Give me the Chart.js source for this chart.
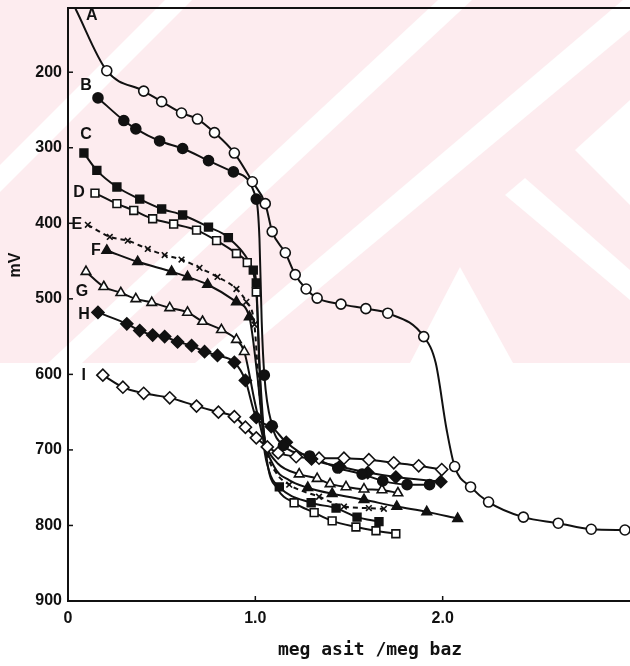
<!DOCTYPE html>
<html>
<head>
<meta charset="utf-8">
<script src="https://cdn.jsdelivr.net/npm/chart.js@4.4.0/dist/chart.umd.min.js"></script>
<style>
  html, body { margin: 0; padding: 0; background: #fff; }
  #wrap { width: 630px; height: 666px; }
</style>
</head>
<body>
<div id="wrap"><canvas id="titration" width="630" height="666"></canvas></div>
<script>
// Titration curves, [meq asit / meq baz, mV]
const ptsA = [[0.207,198],[0.404,225],[0.50,239],[0.606,254],[0.691,262],[0.782,280],[0.888,307],[0.984,345],
  [1.053,374],[1.09,411],[1.16,439],[1.213,468],[1.271,487],[1.33,499],[1.457,507],[1.59,513],[1.707,519],
  [1.899,550],[2.064,722],[2.149,749],[2.245,769],[2.431,789],[2.617,797],[2.793,805],[2.973,806]];
const ptsB = [[0.16,234],[0.298,264],[0.362,275],[0.489,291],[0.612,301],[0.75,317],[0.883,332],[1.005,368],
  [1.048,601],[1.09,668],[1.15,694],[1.29,708],[1.44,724],[1.57,732],[1.68,741],[1.81,746],[1.93,746]];
const ptsC = [[0.085,307],[0.154,330],[0.261,352],[0.383,368],[0.50,381],[0.612,389],[0.75,405],[0.856,419],
  [0.989,462],[1.005,479],[1.128,749],[1.298,770],[1.431,777],[1.543,789],[1.66,795]];
const ptsD = [[0.144,360],[0.261,374],[0.351,383],[0.452,394],[0.564,401],[0.686,409],[0.793,423],[0.899,440],
  [0.957,452],[1.005,491],[1.207,770],[1.314,783],[1.41,794],[1.537,802],[1.644,807],[1.75,811]];
const ptsE = [[0.106,402],[0.223,418],[0.319,423],[0.426,434],[0.516,442],[0.606,448],[0.702,459],[0.798,471],
  [0.899,487],[0.952,504],[0.995,534],[1.181,746],[1.34,762],[1.473,775],[1.606,777],[1.686,778]];
const ptsF = [[0.207,436],[0.372,451],[0.553,464],[0.638,471],[0.745,481],[0.899,504],[0.968,524],
  [1.28,750],[1.41,758],[1.58,766],[1.755,775],[1.915,782],[2.08,791]];
const ptsG = [[0.096,464],[0.191,484],[0.282,492],[0.362,500],[0.447,505],[0.543,512],[0.638,518],[0.718,530],
  [0.819,541],[0.899,554],[0.941,570],[1.234,732],[1.33,738],[1.399,745],[1.484,749],[1.58,752],[1.676,753],[1.761,757]];
const ptsH = [[0.16,518],[0.314,533],[0.383,542],[0.452,548],[0.516,550],[0.585,557],[0.66,562],[0.729,570],
  [0.798,575],[0.888,584],[0.947,608],[1.005,657],[1.085,669],[1.165,690],[1.30,712],[1.45,722],[1.60,730],[1.75,736],[1.99,742]];
const ptsI = [[0.186,601],[0.293,617],[0.404,625],[0.543,631],[0.686,642],[0.803,650],[0.888,656],[0.947,670],
  [1.005,684],[1.064,696],[1.122,704],[1.218,709],[1.34,711],[1.473,711],[1.606,713],[1.739,717],[1.872,721],[1.995,726]];

// extra points the drawn curves pass through (no marker there)
const bendA = [[0.04,116],[1.963,585],[2.021,673]];
const bendB = [[1.022,420],[1.034,530]];
const bendC = [[1.02,580],[1.04,680],[1.07,725]];
const bendD = [[1.025,600],[1.06,710],[1.12,752]];
const bendE = [[1.02,620],[1.06,700],[1.11,730]];
const bendF = [[1.01,600],[1.045,680],[1.10,722],[1.18,740]];
const bendG = [[1.0,640],[1.05,690],[1.12,718]];

const xTicks = [0, 1.0, 2.0];
const yTicks = [200, 300, 400, 500, 600, 700, 800, 900];

const series = [
  { name: 'A', pts: ptsA, bend: bendA, shape: 'circle',   filled: false, r: 5,   lab: [-15, -55] },
  { name: 'B', pts: ptsB, bend: bendB, shape: 'circle',   filled: true,  r: 5,   lab: [-12, -12] },
  { name: 'C', pts: ptsC, bend: bendC, shape: 'rect',     filled: true,  r: 5.5, lab: [2, -18] },
  { name: 'D', pts: ptsD, bend: bendD, shape: 'rect',     filled: false, r: 5.5, lab: [-16, 0] },
  { name: 'E', pts: ptsE, bend: bendE, shape: 'crossRot', filled: false, r: 4,   lab: [-11, 0], dash: [5, 4] },
  { name: 'F', pts: ptsF, bend: bendF, shape: 'triangle', filled: true,  r: 5.5, lab: [-11, 0] },
  { name: 'G', pts: ptsG, bend: bendG, shape: 'triangle', filled: false, r: 5.5, lab: [-4, 20] },
  { name: 'H', pts: ptsH, bend: [],    shape: 'rectRot',  filled: true,  r: 6,   lab: [-14, 2] },
  { name: 'I', pts: ptsI, bend: [],    shape: 'rectRot',  filled: false, r: 6,   lab: [-19, 0] }
];

const ink = '#111';
const toXY = p => ({ x: p[0], y: p[1] });

const datasets = [];
series.forEach(s => {
  const curve = s.pts.concat(s.bend).sort((p, q) => p[0] - q[0]).map(toXY);
  datasets.push({
    type: 'line',
    label: s.name + ' curve',
    data: curve,
    borderColor: ink,
    borderWidth: 2,
    borderDash: s.dash || [],
    pointRadius: 0,
    fill: false,
    cubicInterpolationMode: 'monotone',
    order: 2
  });
  datasets.push({
    type: 'scatter',
    label: s.name,
    data: s.pts.map(toXY),
    pointStyle: s.shape,
    pointRadius: s.r,
    pointBackgroundColor: s.filled ? ink : '#fff',
    pointBorderColor: ink,
    pointBorderWidth: 1.6,
    order: 1
  });
});

// pink diagonal watermark of the scanned page, behind everything
function drawWatermark(ctx) {
  ctx.save();
  ctx.fillStyle = '#fdecef';
  ctx.fillRect(0, 0, 630, 363);
  ctx.fillStyle = '#fff';
  const bands = [
    [[0, 165], [0, 192], [192, 0], [165, 0]],
    [[48, 363], [82, 363], [472, 0], [438, 0]],
    [[195, 363], [230, 363], [630, 30], [630, -6]],
    [[505, 195], [525, 178], [630, 270], [630, 300]],
    [[575, 150], [630, 100], [630, 205]],
    [[460, 267], [410, 363], [513, 363]]
  ];
  bands.forEach(poly => {
    ctx.beginPath();
    poly.forEach((p, i) => i ? ctx.lineTo(p[0], p[1]) : ctx.moveTo(p[0], p[1]));
    ctx.closePath();
    ctx.fill();
  });
  ctx.restore();
}

const decoPlugin = {
  id: 'deco',
  beforeDraw(chart) {
    const ctx = chart.ctx;
    ctx.save();
    ctx.fillStyle = '#fff';
    ctx.fillRect(0, 0, chart.width, chart.height);
    ctx.restore();
    drawWatermark(ctx);
  },
  afterDatasetsDraw(chart) {
    const ctx = chart.ctx;
    const xs = chart.scales.x, ys = chart.scales.y;
    ctx.save();
    ctx.fillStyle = ink;
    ctx.font = 'bold 16px "Liberation Sans", Arial, sans-serif';
    ctx.textAlign = 'center';
    ctx.textBaseline = 'middle';
    series.forEach(s => {
      const p = s.pts[0];
      ctx.fillText(s.name, xs.getPixelForValue(p[0]) + s.lab[0], ys.getPixelForValue(p[1]) + s.lab[1]);
    });
    ctx.restore();
  },
  afterDraw(chart) {
    const ctx = chart.ctx;
    const a = chart.chartArea;
    const xs = chart.scales.x, ys = chart.scales.y;
    ctx.save();
    ctx.strokeStyle = ink;
    ctx.lineWidth = 2;
    // top frame line
    ctx.beginPath();
    ctx.moveTo(a.left - 1, a.top);
    ctx.lineTo(a.right, a.top);
    ctx.stroke();
    // inward tick marks
    ctx.lineWidth = 1.5;
    yTicks.forEach(v => {
      const y = ys.getPixelForValue(v);
      ctx.beginPath(); ctx.moveTo(a.left, y); ctx.lineTo(a.left + 5, y); ctx.stroke();
    });
    xTicks.slice(1).forEach(v => {
      const x = xs.getPixelForValue(v);
      ctx.beginPath(); ctx.moveTo(x, a.bottom); ctx.lineTo(x, a.bottom - 5); ctx.stroke();
    });
    // axis titles
    ctx.fillStyle = ink;
    ctx.font = 'bold 16px "Liberation Sans", Arial, sans-serif';
    ctx.textAlign = 'center';
    ctx.textBaseline = 'middle';
    ctx.save();
    ctx.translate(16, 265);
    ctx.rotate(-Math.PI / 2);
    ctx.fillText('mV', 0, 0);
    ctx.restore();
    ctx.font = 'bold 18px "DejaVu Sans Mono", monospace';
    ctx.fillText('meg asit /meg baz', 370, 650);
    ctx.restore();
  }
};

new Chart(document.getElementById('titration'), {
  type: 'scatter',
  data: { datasets },
  options: {
    responsive: false,
    animation: false,
    devicePixelRatio: 1,
    layout: { autoPadding: false, padding: { top: 8, right: 0, left: 0, bottom: 0 } },
    plugins: { legend: { display: false }, tooltip: { enabled: false } },
    scales: {
      x: {
        type: 'linear',
        min: 0,
        max: 3.0,
        afterBuildTicks: s => { s.ticks = xTicks.map(v => ({ value: v })); },
        afterFit: s => { s.height = 65; s.paddingLeft = 0; s.paddingRight = 0; },
        ticks: {
          color: ink,
          padding: 8,
          maxRotation: 0,
          font: { family: '"Liberation Sans", Arial, sans-serif', size: 16, weight: 'bold' },
          callback: v => (v === 0 ? '0' : v.toFixed(1))
        },
        grid: { display: false, drawTicks: false },
        border: { display: true, color: ink, width: 2 }
      },
      y: {
        type: 'linear',
        reverse: true,
        min: 115,
        max: 900,
        afterBuildTicks: s => { s.ticks = yTicks.map(v => ({ value: v })); },
        afterFit: s => { s.width = 68; s.paddingTop = 0; s.paddingBottom = 0; },
        ticks: {
          color: ink,
          padding: 6,
          font: { family: '"Liberation Sans", Arial, sans-serif', size: 16, weight: 'bold' },
          callback: v => String(v)
        },
        grid: { display: false, drawTicks: false },
        border: { display: true, color: ink, width: 2 }
      }
    }
  },
  plugins: [decoPlugin]
});
</script>
</body>
</html>
